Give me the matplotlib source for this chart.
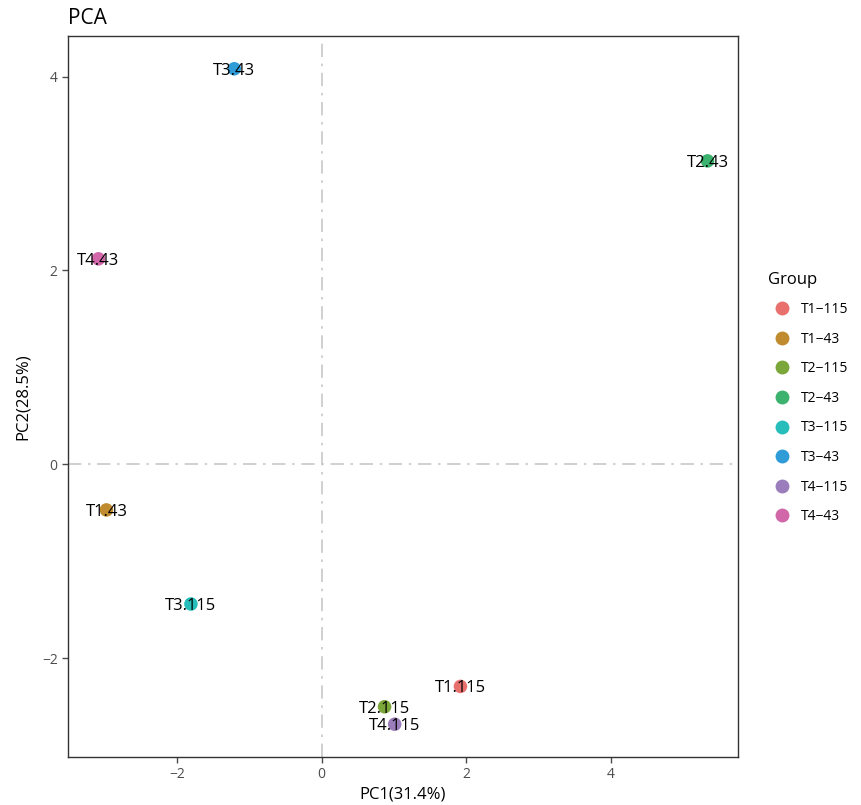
import matplotlib.pyplot as plt
from matplotlib.lines import Line2D

plt.rcParams['font.family'] = ['Open Sans', 'DejaVu Sans']

# PCA scores
samples = ['T1.115', 'T1.43', 'T2.115', 'T2.43', 'T3.115', 'T3.43', 'T4.115', 'T4.43']
groups = ['T1−115', 'T1−43', 'T2−115', 'T2−43', 'T3−115', 'T3−43', 'T4−115', 'T4−43']
pc1 = [1.92, -2.98, 0.87, 5.34, -1.81, -1.21, 1.01, -3.09]
pc2 = [-2.29, -0.47, -2.50, 3.13, -1.44, 4.08, -2.68, 2.12]
colors = ['#E8716E', '#C08A2E', '#7AA63A', '#3BB26D',
          '#27BDBA', '#2F9CD8', '#9A7DBA', '#D167A8']

fig = plt.figure(figsize=(8.62, 8.05), dpi=100)
ax = fig.add_axes([68 / 862, 48 / 805, 670 / 862, 721 / 805])

# Reference lines at zero
ax.axhline(0, color='#C8C8C8', linewidth=1.2, linestyle=(0, (8, 4, 1.5, 4)), zorder=1)
ax.axvline(0, color='#C8C8C8', linewidth=1.2, linestyle=(0, (8, 4, 1.5, 4)), zorder=1)

for x, y, c in zip(pc1, pc2, colors):
    ax.scatter(x, y, s=95, color=c, edgecolors='none', zorder=2)

for x, y, name in zip(pc1, pc2, samples):
    ax.text(x, y, name, ha='center', va='center_baseline', fontsize=12,
            color='black', zorder=3)

# ggplot-like 5% expansion
xr = max(pc1) - min(pc1)
yr = max(pc2) - min(pc2)
ax.set_xlim(min(pc1) - 0.05 * xr, max(pc1) + 0.05 * xr)
ax.set_ylim(min(pc2) - 0.05 * yr, max(pc2) + 0.05 * yr)

ax.set_xticks([-2, 0, 2, 4])
ax.set_yticks([-2, 0, 2, 4])
ax.set_xticklabels(['−2', '0', '2', '4'])
ax.set_yticklabels(['−2', '0', '2', '4'])
ax.tick_params(colors='#4D4D4D', labelcolor='#4D4D4D', labelsize=10, length=4, width=1)
for sp in ax.spines.values():
    sp.set_color('#333333')
    sp.set_linewidth(1)

ax.set_xlabel('PC1(31.4%)', fontsize=12, labelpad=3)
ax.set_ylabel('PC2(28.5%)', fontsize=12, labelpad=8)
ax.set_title('PCA', loc='left', fontsize=15, pad=9)

handles = [Line2D([], [], marker='o', linestyle='none', markersize=10,
                  markerfacecolor=c, markeredgecolor='none') for c in colors]
leg = fig.legend(handles, groups, title='Group', loc='upper left',
                 bbox_to_anchor=(756 / 862, 1 - 259 / 805), frameon=False,
                 fontsize=10, title_fontsize=12, labelspacing=1.05,
                 handletextpad=0.3, alignment='left')

fig.savefig('out.png', dpi=100)
